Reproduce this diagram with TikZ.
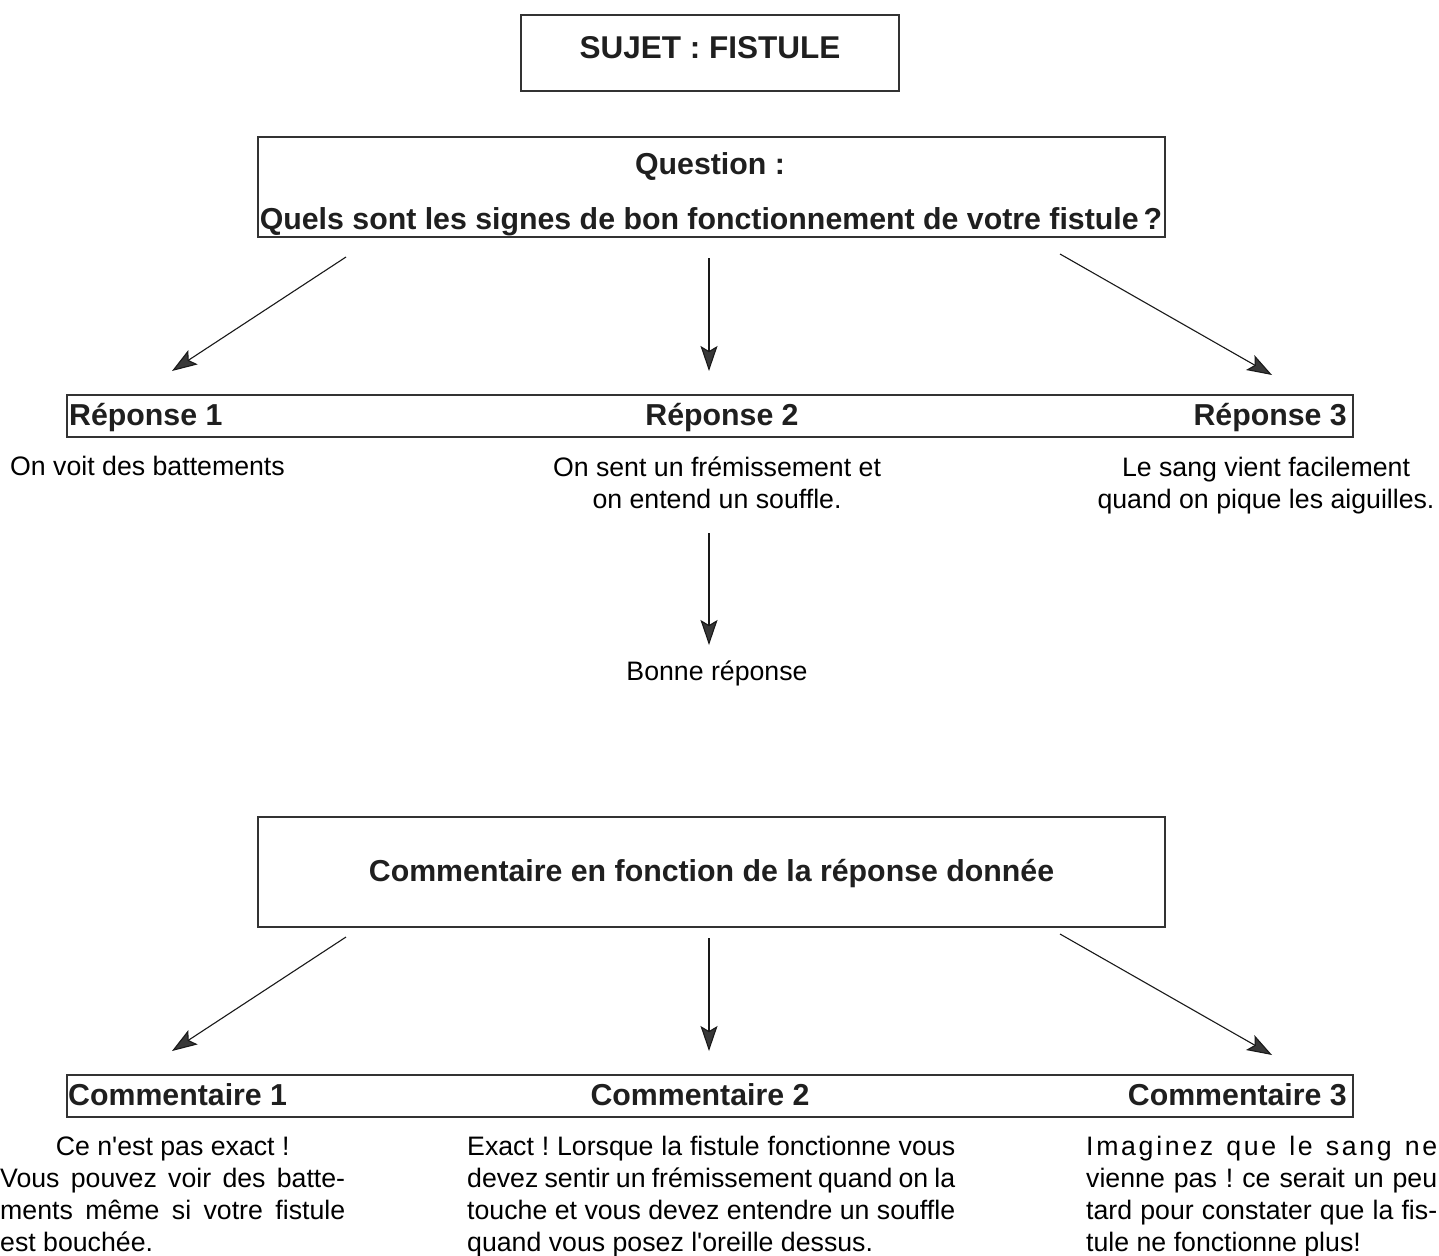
\documentclass[tikz,border=0pt]{standalone}
\usepackage{fontspec}
\setmainfont{Liberation Sans}
\usetikzlibrary{arrows.meta}
\setlength{\parindent}{0pt}
\tolerance=10000
\hbadness=10000
\begin{document}
\begin{tikzpicture}[x=1pt,y=-1pt,
  frame/.style={draw=black!80, line width=1.3pt, inner sep=0pt},
  bt/.style={font=\fontsize{30.3}{36}\selectfont\bfseries, text=black!88, inner sep=0pt, anchor=base},
  rt/.style={font=\fontsize{26.7}{32}\selectfont\frenchspacing, inner sep=0pt, anchor=base},
  para/.style={rt, anchor=base west, align=justify, font=\fontsize{26.7}{32.2}\selectfont\frenchspacing},
  arr/.style={line width=1.1pt, draw=black!90, -{Stealth[length=25pt,width=17pt,inset=5pt,fill=black!78]}},
]
\useasboundingbox (0,0) rectangle (1439,1255);

% title
\node[frame, minimum width=378pt, minimum height=76pt,
      font=\fontsize{31.5}{36}\selectfont\bfseries, text=black!88,
      text height=22.5pt, text depth=11pt] (sujet) at (710,53) {SUJET : FISTULE};

% question
\node[frame, minimum width=907pt, minimum height=100pt] (qbox) at (711.5,187) {};
\node[bt] (qtitle) at (710,174) {Question :};
\node[bt] (qtext) at (711,229) {Quels sont les signes de bon fonctionnement de votre fistule\,?};

% arrows to answers
\coordinate (qa1) at (346,257); \coordinate (qa1e) at (172,371);
\coordinate (qa2) at (709,258); \coordinate (qa2e) at (709,371);
\coordinate (qa3) at (1060,254); \coordinate (qa3e) at (1272,375);
\draw[arr] (qa1) -- (qa1e);
\draw[arr] (qa2) -- (qa2e);
\draw[arr] (qa3) -- (qa3e);

% answers row
\node[frame, minimum width=1286pt, minimum height=42pt] (rbox) at (710,416) {};
\node[bt, anchor=base west] (r1) at (69,425) {Réponse 1};
\node[bt] (r2) at (722,425) {Réponse 2};
\node[bt, anchor=base east] (r3) at (1347,425) {Réponse 3};

\node[rt, anchor=base west] (a1) at (10,475) {On voit des battements};
\node[rt, align=center] (a2) at (717,508) {On sent un frémissement et\\on entend un souffle.};
\node[rt, align=center] (a3) at (1266,508) {Le sang vient facilement\\quand on pique les aiguilles.};

% good answer
\coordinate (ba) at (709,533); \coordinate (bae) at (709,645);
\draw[arr] (ba) -- (bae);
\node[rt] (bonne) at (717,680) {Bonne réponse};

% comment box
\node[frame, minimum width=907pt, minimum height=110pt,
      font=\fontsize{30.3}{36}\selectfont\bfseries, text=black!88,
      text height=22pt, text depth=4pt] (cbox) at (711.5,872) {Commentaire en fonction de la réponse donnée};

\coordinate (ca1) at (346,937); \coordinate (ca1e) at (172,1051);
\coordinate (ca2) at (709,938); \coordinate (ca2e) at (709,1051);
\coordinate (ca3) at (1060,934); \coordinate (ca3e) at (1272,1055);
\draw[arr] (ca1) -- (ca1e);
\draw[arr] (ca2) -- (ca2e);
\draw[arr] (ca3) -- (ca3e);

% comments row
\node[frame, minimum width=1286pt, minimum height=42pt] (ccbox) at (710,1096) {};
\node[bt, anchor=base west] (c1) at (68,1105) {Commentaire 1};
\node[bt] (c2) at (700,1105) {Commentaire 2};
\node[bt, anchor=base east] (c3) at (1347,1105) {Commentaire 3};

\node[para, text width=345pt] (k1) at (0,1155)
  {\hfil Ce n\textquotesingle est pas exact !\\
   Vous pouvez voir des batte-\linebreak
   ments même si votre fistule\linebreak
   est bouchée.};
\node[para, text width=488pt] (k2) at (467,1155)
  {Exact ! Lorsque la fistule fonctionne vous\linebreak
   devez sentir un frémissement quand on la\linebreak
   touche et vous devez entendre un souffle\linebreak
   quand vous posez l\textquotesingle oreille dessus.};
\node[para, text width=351pt] (k3) at (1086,1155)
  {{\addfontfeature{LetterSpace=10}Imaginez que le sang ne}\linebreak
   vienne pas ! ce serait un peu\linebreak
   tard pour constater que la fis-\linebreak
   tule ne fonctionne plus!};
\end{tikzpicture}
\end{document}
